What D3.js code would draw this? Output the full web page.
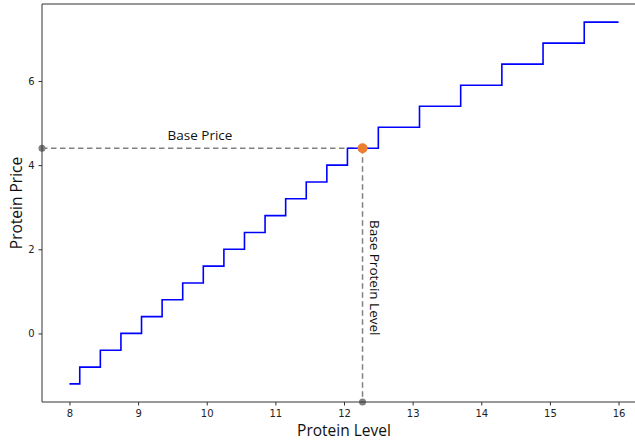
<!DOCTYPE html>
<html><head><meta charset="utf-8">
<script src="https://cdn.jsdelivr.net/npm/d3@7"></script>
<style>body{margin:0;background:#fff}svg{display:block}</style>
</head><body>
<svg id="c" width="635" height="441"></svg>
<script>
const stepX = [8, 8.15, 8.45, 8.75, 9.05, 9.35, 9.65, 9.95, 10.25, 10.55, 10.85, 11.15, 11.45, 11.75, 12.05, 12.5, 13.1, 13.7, 14.3, 14.9, 15.5, 16];
const stepY = [-1.2, -0.8, -0.4, 0, 0.4, 0.8, 1.2, 1.6, 2.0, 2.4, 2.8, 3.2, 3.6, 4.0, 4.4, 4.9, 5.4, 5.9, 6.4, 6.9, 7.4, 7.4];
const xTicks = [8, 9, 10, 11, 12, 13, 14, 15, 16];
const yTicks = [0, 2, 4, 6];
const baseLevel = 12.27;
const basePrice = 4.4;

const svg = d3.select("#c");
const L = 42, R = 646, T = 4, B = 402;
const x = d3.scaleLinear().domain([7.6, 16.4]).range([L, R]);
const y = d3.scaleLinear().domain([-1.63, 7.83]).range([B, T]);

const data = stepX.map((v, i) => [v, stepY[i]]);

// dashed guide lines
svg.append("line").attr("x1", x(7.6)).attr("x2", x(baseLevel))
  .attr("y1", y(basePrice)).attr("y2", y(basePrice))
  .attr("stroke", "#808080").attr("stroke-width", 1.5).attr("stroke-dasharray", "5.5,3.5");
svg.append("line").attr("x1", x(baseLevel)).attr("x2", x(baseLevel))
  .attr("y1", y(basePrice)).attr("y2", y(-1.63))
  .attr("stroke", "#808080").attr("stroke-width", 1.5).attr("stroke-dasharray", "5.5,3.5");

// step line
svg.append("path").datum(data)
  .attr("d", d3.line().x(d => x(d[0])).y(d => y(d[1])).curve(d3.curveStepAfter))
  .attr("fill", "none").attr("stroke", "#0000ff").attr("stroke-width", 1.6);

// dots
svg.append("circle").attr("cx", x(7.6)).attr("cy", y(basePrice)).attr("r", 3.5).attr("fill", "#808080");
svg.append("circle").attr("cx", x(baseLevel)).attr("cy", y(-1.63)).attr("r", 3.5).attr("fill", "#808080");
svg.append("circle").attr("cx", x(baseLevel)).attr("cy", y(basePrice)).attr("r", 5).attr("fill", "#ED7D31");

// axes
const gx = svg.append("g").attr("transform", `translate(0,${B})`)
  .call(d3.axisBottom(x).tickValues(xTicks).tickSize(3.5).tickPadding(4).tickFormat(d3.format("d")));
const gy = svg.append("g").attr("transform", `translate(${L},0)`)
  .call(d3.axisLeft(y).tickValues(yTicks).tickSize(3.5).tickPadding(4).tickFormat(d3.format("d")));
[gx, gy].forEach(g => {
  g.select(".domain").remove();
  g.selectAll("line").attr("stroke", "#333");
  g.selectAll("text").attr("font-family", "DejaVu Sans").attr("font-size", 10).attr("fill", "#222");
});
// spines
svg.append("line").attr("x1", L).attr("x2", L).attr("y1", T).attr("y2", B).attr("stroke", "#333").attr("stroke-width", 1);
svg.append("line").attr("x1", L).attr("x2", R).attr("y1", B).attr("y2", B).attr("stroke", "#333").attr("stroke-width", 1);
svg.append("line").attr("x1", L).attr("x2", R).attr("y1", T).attr("y2", T).attr("stroke", "#333").attr("stroke-width", 1);

// labels
svg.append("text").attr("x", (L + R) / 2).attr("y", 436).attr("text-anchor", "middle")
  .attr("font-family", "Open Sans").attr("font-size", 15.5).attr("fill", "#111").text("Protein Level");
svg.append("text").attr("transform", `translate(22,${(T + B) / 2}) rotate(-90)`).attr("text-anchor", "middle")
  .attr("font-family", "Open Sans").attr("font-size", 15.5).attr("fill", "#111").text("Protein Price");
svg.append("text").attr("x", 200).attr("y", 140).attr("text-anchor", "middle")
  .attr("font-family", "Open Sans").attr("font-size", 13.5).attr("fill", "#111").text("Base Price");
svg.append("text").attr("transform", `translate(370,220) rotate(90)`).attr("text-anchor", "start")
  .attr("font-family", "Open Sans").attr("font-size", 13.5).attr("fill", "#111").text("Base Protein Level");
</script>
</body></html>
